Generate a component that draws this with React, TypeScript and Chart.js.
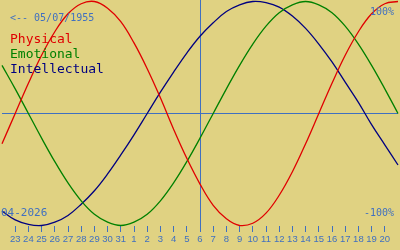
import React, { useEffect, useRef } from 'react';
import { Chart, registerables } from 'chart.js';

Chart.register(...registerables);

// Days shown (22 March .. 21 April 2026)
const dayLabels = [
  '22', '23', '24', '25', '26', '27', '28', '29', '30', '31',
  '1', '2', '3', '4', '5', '6', '7', '8', '9', '10',
  '11', '12', '13', '14', '15', '16', '17', '18', '19', '20', '21',
];

// Series values (-1 .. 1), one per day
const physical = [
  -0.27, 0.0, 0.27, 0.52, 0.73, 0.89, 0.98, 1.0, 0.94, 0.82,
  0.63, 0.4, 0.14, -0.14, -0.4, -0.63, -0.82, -0.94, -1.0, -0.98,
  -0.89, -0.73, -0.52, -0.27, 0.0, 0.27, 0.52, 0.73, 0.89, 0.98, 1.0,
];
const emotional = [
  0.43, 0.22, 0.0, -0.22, -0.43, -0.62, -0.78, -0.9, -0.97, -1.0,
  -0.97, -0.9, -0.78, -0.62, -0.43, -0.22, 0.0, 0.22, 0.43, 0.62,
  0.78, 0.9, 0.97, 1.0, 0.97, 0.9, 0.78, 0.62, 0.43, 0.22, 0.0,
];
const intellectual = [
  -0.87, -0.95, -0.99, -1.0, -0.97, -0.91, -0.81, -0.69, -0.54, -0.37,
  -0.19, 0.0, 0.19, 0.37, 0.54, 0.69, 0.81, 0.91, 0.97, 1.0,
  0.99, 0.95, 0.87, 0.76, 0.62, 0.46, 0.28, 0.1, -0.1, -0.28, -0.46,
];

const seriesNames = ['Physical', 'Emotional', 'Intellectual'];
const todayIndex = 15;
const birthText = '<-- 05/07/1955';
const monthText = '04-2026';
const topText = '100%';
const bottomText = '-100%';

const BG = '#E0D282';
const BLUE = '#4070C0';
const COLORS = ['#E00000', '#008000', '#000080'];
const MONO = '"DejaVu Sans Mono", monospace';

const textPlugin = {
  id: 'bioText',
  beforeDraw(chart: any) {
    const { ctx, width, height } = chart;
    ctx.save();
    ctx.fillStyle = BG;
    ctx.fillRect(0, 0, width, height);
    ctx.restore();
  },
  afterDraw(chart: any) {
    const { ctx } = chart;
    ctx.save();
    ctx.textBaseline = 'alphabetic';
    ctx.fillStyle = BLUE;
    ctx.font = `10px ${MONO}`;
    ctx.textAlign = 'left';
    ctx.fillText(birthText, 10, 21);
    ctx.textAlign = 'right';
    ctx.fillText(topText, 394, 15);
    ctx.fillText(bottomText, 394, 216);
    ctx.textAlign = 'left';
    ctx.font = `11px ${MONO}`;
    ctx.fillText(monthText, 1, 216);
    ctx.font = `13px ${MONO}`;
    seriesNames.forEach((name, i) => {
      ctx.fillStyle = COLORS[i];
      ctx.fillText(name, 10, 43 + i * 15);
    });
    ctx.restore();
  },
};

export default function App() {
  const ref = useRef<HTMLCanvasElement | null>(null);

  useEffect(() => {
    if (!ref.current) return;
    const series = [physical, emotional, intellectual];
    const chart = new Chart(ref.current, {
      type: 'line',
      data: {
        labels: dayLabels,
        datasets: series.map((values, i) => ({
          label: seriesNames[i],
          data: values,
          borderColor: COLORS[i],
          borderWidth: 1.3,
          pointRadius: 0,
          tension: 0.4,
          fill: false,
          clip: false as any,
        })),
      },
      options: {
        animation: false,
        responsive: false,
        devicePixelRatio: 1,
        layout: { padding: 0 },
        plugins: { legend: { display: false }, tooltip: { enabled: false } },
        events: [],
        scales: {
          x: {
            type: 'category',
            offset: false,
            grid: {
              drawOnChartArea: true,
              color: (c: any) => (c.index === todayIndex ? BLUE : 'transparent'),
              tickColor: (c: any) =>
                c.index === 0 || c.index === dayLabels.length - 1 ? 'transparent' : BLUE,
              tickLength: 6,
              lineWidth: 1,
            },
            border: { display: false },
            ticks: {
              autoSkip: false,
              maxRotation: 0,
              minRotation: 0,
              color: BLUE,
              padding: 2,
              font: { family: 'Liberation Sans', size: 9.5 },
              callback: (_v: any, i: number) =>
                i === 0 || i === dayLabels.length - 1 ? '' : dayLabels[i],
            },
            afterFit: (s: any) => {
              s.height = 24;
            },
          },
          y: {
            min: -1.0045,
            max: 1.0134,
            position: 'left',
            ticks: { display: false },
            grid: { drawTicks: false, color: BLUE, lineWidth: 1 },
            border: { display: false },
            afterBuildTicks: (s: any) => {
              s.ticks = [{ value: 0 }];
            },
            afterFit: (s: any) => {
              s.width = 0;
            },
          },
        },
      },
      plugins: [textPlugin],
    });
    return () => chart.destroy();
  }, []);

  return (
    <div style={{ position: 'fixed', left: 0, top: 0, width: 400, height: 250, background: BG }}>
      <canvas ref={ref} width={400} height={250} style={{ display: 'block', width: 400, height: 250 }} />
    </div>
  );
}
